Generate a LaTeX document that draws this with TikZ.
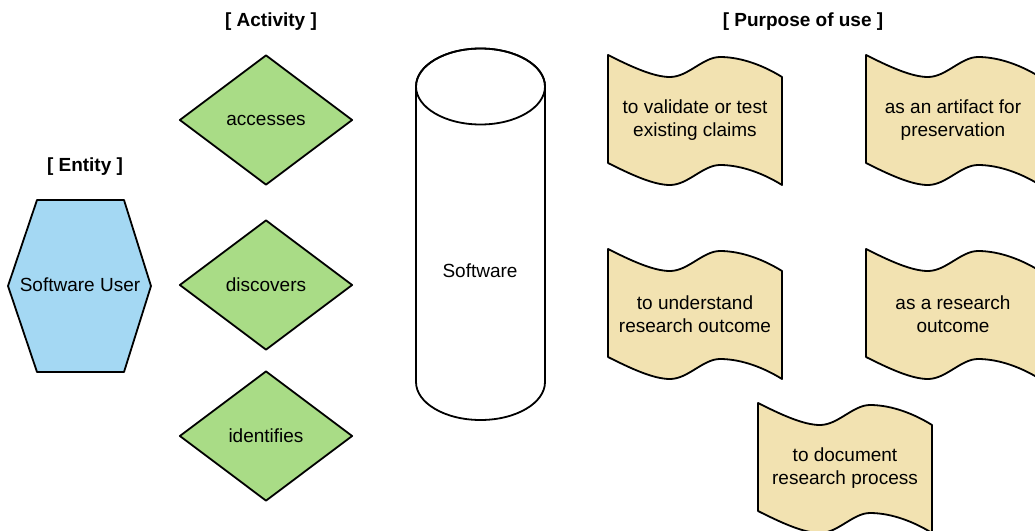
\documentclass[tikz,border=0pt]{standalone}
\usepackage{fontspec}
\setmainfont{Liberation Sans}
\usetikzlibrary{shapes.geometric}
\definecolor{entityblue}{HTML}{A4D8F3}
\definecolor{actgreen}{HTML}{A9DC86}
\definecolor{tapebeige}{HTML}{F2E2B1}
\tikzset{
  base/.style={font=\fontsize{19pt}{23pt}\selectfont},
  header/.style={font=\fontsize{19pt}{23pt}\selectfont\bfseries},
  outline/.style={draw=black, line width=1.8pt, line join=round},
  actbox/.style={outline, diamond, fill=actgreen, minimum width=173pt, minimum height=130pt, inner sep=0pt, base},
  tapeshape/.style={outline, fill=tapebeige},
  lbl/.style={base, align=center, inner sep=0pt},
}
\newcommand\tapeat[4]{%
  \begin{scope}[shift={(#1,#2)}]
    \path[tapeshape] (0,0) .. controls (22,11) and (45,22) .. (62,22)
      .. controls (80,22) and (95,2) .. (112,2)
      .. controls (135,2) and (158,12) .. (174,22) -- (174,130)
      .. controls (158,120) and (135,110) .. (112,110)
      .. controls (95,110) and (80,130) .. (62,130)
      .. controls (45,130) and (22,119) .. (0,108) -- cycle;
    \node[lbl] (#3) at (87,65) {#4};
  \end{scope}}
\begin{document}
\begin{tikzpicture}[x=1pt,y=-1pt]
  \useasboundingbox (0,0) rectangle (1035,530);
  \clip (0,0) rectangle (1035,530);
  % headers
  \node[header] (hEntity) at (85,167) {[ Entity ]};
  \node[header] (hActivity) at (271,22) {[ Activity ]};
  \node[header] (hPurpose) at (803,22) {[ Purpose of use ]};
  % entity hexagon
  \path[outline, fill=entityblue] (37,200) -- (124,200) -- (151,286) -- (124,372) -- (37,372) -- (8,286) -- cycle;
  \node[lbl] (user) at (80,285) {Software User};
  % activities
  \node[actbox] (accesses) at (266,120) {accesses};
  \node[actbox] (discovers) at (266,285) {discovers};
  \node[actbox] (identifies) at (266,436) {identifies};
  % cylinder
  \path[outline, fill=white] (416,86.5) -- (416,382)
     arc[start angle=180, end angle=360, x radius=64.5pt, y radius=38pt]
     -- (545,86.5) arc[start angle=0, end angle=180, x radius=64.5pt, y radius=38pt] -- cycle;
  \draw[outline] (480.5,86.5) ellipse [x radius=64.5pt, y radius=38pt];
  \node[lbl] (software) at (480,271) {Software};
  % purposes
  \tapeat{608}{55}{validate}{to validate or test\\existing claims}
  \tapeat{866}{55}{artifact}{as an artifact for\\preservation}
  \tapeat{608}{249}{understand}{to understand\\research outcome}
  \tapeat{866}{249}{outcome}{as a research\\outcome}
  \tapeat{758}{403}{document}{to document\\research process}
\end{tikzpicture}
\end{document}
